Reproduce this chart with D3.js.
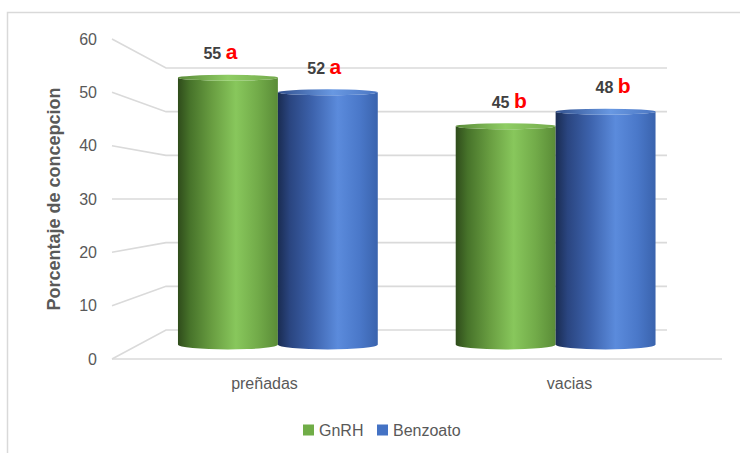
<!DOCTYPE html>
<html>
<head>
<meta charset="utf-8">
<script src="https://cdn.jsdelivr.net/npm/d3@7"></script>
<style>
  html, body { margin: 0; padding: 0; background: #ffffff; }
  svg { display: block; }
</style>
</head>
<body>
<svg id="chart" width="740" height="453"></svg>
<script>
// ---- data ----
const categories = ["preñadas", "vacias"];
const seriesNames = ["GnRH", "Benzoato"];
const gnrhValues = [55, 45];
const benzoatoValues = [52, 48];
const gnrhLetters = ["a", "b"];
const benzoatoLetters = ["a", "b"];
const yTicks = [0, 10, 20, 30, 40, 50, 60];
const yTitle = "Porcentaje de concepcion";

const seriesValues = [gnrhValues, benzoatoValues];
const seriesLetters = [gnrhLetters, benzoatoLetters];
const seriesColors = ["#70ad47", "#4472c4"];

// ---- setup ----
const svg = d3.select("#chart");
const W = 740, H = 453;
const fontMain = "'Liberation Sans', Arial, sans-serif";

// chart border
svg.append("rect")
  .attr("x", 7.5).attr("y", 12.5)
  .attr("width", W + 20).attr("height", H + 20)
  .attr("fill", "none").attr("stroke", "#d9d9d9").attr("stroke-width", 1.5);

// 3D planes: front edge, back wall, and mid-depth (where bars stand)
const yFront = d3.scaleLinear().domain([0, 60]).range([359, 39]);
const yBack = d3.scaleLinear().domain([0, 60]).range([330, 68]);
const yMid = d3.scaleLinear().domain([0, 60]).range([344.5, 53.5]);
const xFront = d3.scaleBand().domain(categories).range([112, 722]);
const xBack = d3.scaleBand().domain(categories).range([166, 667]);
const xMid = d3.scaleBand().domain(categories).range([139, 694.5]);
const xSeries = d3.scaleBand().domain(seriesNames)
  .range([0, xMid.bandwidth()]).paddingInner(0).paddingOuter(0.39);

const gridColor = "#dadada";
const grid = svg.append("g").attr("fill", "none").attr("stroke", gridColor).attr("stroke-width", 1.6);

const backLeft = xBack.range()[0], backRight = xBack.range()[1];
const frontLeft = xFront.range()[0], frontRight = xFront.range()[1];

// gridlines: side wall diagonal + back wall horizontal
yTicks.forEach(t => {
  grid.append("path")
    .attr("d", `M${frontLeft},${yFront(t)} L${backLeft},${yBack(t)} L${backRight},${yBack(t)}`);
});
// floor front edge
grid.append("line")
  .attr("x1", frontLeft).attr("y1", yFront(0))
  .attr("x2", frontRight).attr("y2", yFront(0));

// tick labels
svg.append("g").selectAll("text").data(yTicks).join("text")
  .attr("x", frontLeft - 15)
  .attr("y", d => yFront(d))
  .attr("dy", "0.35em")
  .attr("text-anchor", "end")
  .attr("font-family", fontMain)
  .attr("font-size", 16)
  .attr("fill", "#595959")
  .text(d => d);

// y title
svg.append("text")
  .attr("transform", `translate(60, ${(yFront(0) + yFront(60)) / 2}) rotate(-90)`)
  .attr("text-anchor", "middle")
  .attr("font-family", fontMain)
  .attr("font-size", 18)
  .attr("font-weight", "bold")
  .attr("fill", "#595959")
  .text(yTitle);

// gradients for cylinders
const defs = svg.append("defs");
const gradStops = [
  [[0, "#2f4c1b"], [0.12, "#47732a"], [0.35, "#6a9f42"], [0.58, "#88c75c"], [0.8, "#72ab49"], [1, "#5a8c37"]],
  [[0, "#1a2c52"], [0.12, "#2a4580"], [0.35, "#3d63ad"], [0.6, "#5b8bdc"], [0.82, "#4a78c9"], [1, "#3a63ad"]]
];
const topStops = [
  [[0, "#5a8a38"], [0.5, "#8fcd64"], [1, "#74aa4c"]],
  [[0, "#32518f"], [0.55, "#6898e2"], [1, "#4b76c2"]]
];
seriesNames.forEach((s, i) => {
  const g = defs.append("linearGradient").attr("id", "side" + i)
    .attr("x1", "0%").attr("x2", "100%").attr("y1", "0%").attr("y2", "0%");
  gradStops[i].forEach(([o, c]) => g.append("stop").attr("offset", o).attr("stop-color", c));
  const t = defs.append("linearGradient").attr("id", "top" + i)
    .attr("x1", "0%").attr("x2", "100%").attr("y1", "0%").attr("y2", "0%");
  topStops[i].forEach(([o, c]) => t.append("stop").attr("offset", o).attr("stop-color", c));
});

// bars (cylinders)
const bars = [];
categories.forEach((c, ci) => {
  seriesNames.forEach((s, si) => {
    bars.push({ cat: c, ci, si, value: seriesValues[si][ci], letter: seriesLetters[si][ci] });
  });
});

const rTop = 3, rBot = 5;
const barG = svg.append("g");
bars.forEach(b => {
  const x0 = xMid(b.cat) + xSeries(seriesNames[b.si]);
  const w = xSeries.bandwidth();
  const rx = w / 2;
  const yT = yMid(b.value), yB = yMid(0);
  const side = `M${x0},${yT} L${x0},${yB} A${rx},${rBot} 0 0 0 ${x0 + w},${yB} L${x0 + w},${yT} A${rx},${rTop} 0 0 1 ${x0},${yT} Z`;
  barG.append("path").attr("d", side).attr("fill", `url(#side${b.si})`);
  barG.append("ellipse")
    .attr("cx", x0 + rx).attr("cy", yT).attr("rx", rx).attr("ry", rTop)
    .attr("fill", `url(#top${b.si})`);
  b.cx = x0 + rx;
  b.yT = yT;
});

// value labels
const center = (xMid.range()[0] + xMid.range()[1]) / 2;
const labG = svg.append("g");
bars.forEach(b => {
  const lx = b.cx + (b.cx - center) * 0.04;
  const t = labG.append("text")
    .attr("x", lx).attr("y", b.yT - 18.5)
    .attr("text-anchor", "middle")
    .attr("font-family", fontMain);
  t.append("tspan").attr("font-size", 16).attr("font-weight", "bold").attr("fill", "#404040").text(b.value + " ");
  t.append("tspan").attr("font-size", 21).attr("font-weight", "bold").attr("fill", "#ff0000").text(b.letter);
});

// category labels
svg.append("g").selectAll("text").data(categories).join("text")
  .attr("x", d => xFront(d) + xFront.bandwidth() / 2)
  .attr("y", yFront(0) + 30)
  .attr("text-anchor", "middle")
  .attr("font-family", fontMain)
  .attr("font-size", 16)
  .attr("fill", "#595959")
  .text(d => d);

// legend
const legendX = [303, 377];
const legG = svg.append("g");
seriesNames.forEach((s, i) => {
  legG.append("rect").attr("x", legendX[i]).attr("y", 424.5).attr("width", 11).attr("height", 11)
    .attr("fill", seriesColors[i]);
  legG.append("text").attr("x", legendX[i] + 16).attr("y", 435.5)
    .attr("font-family", fontMain).attr("font-size", 16).attr("fill", "#595959").text(s);
});
</script>
</body>
</html>
